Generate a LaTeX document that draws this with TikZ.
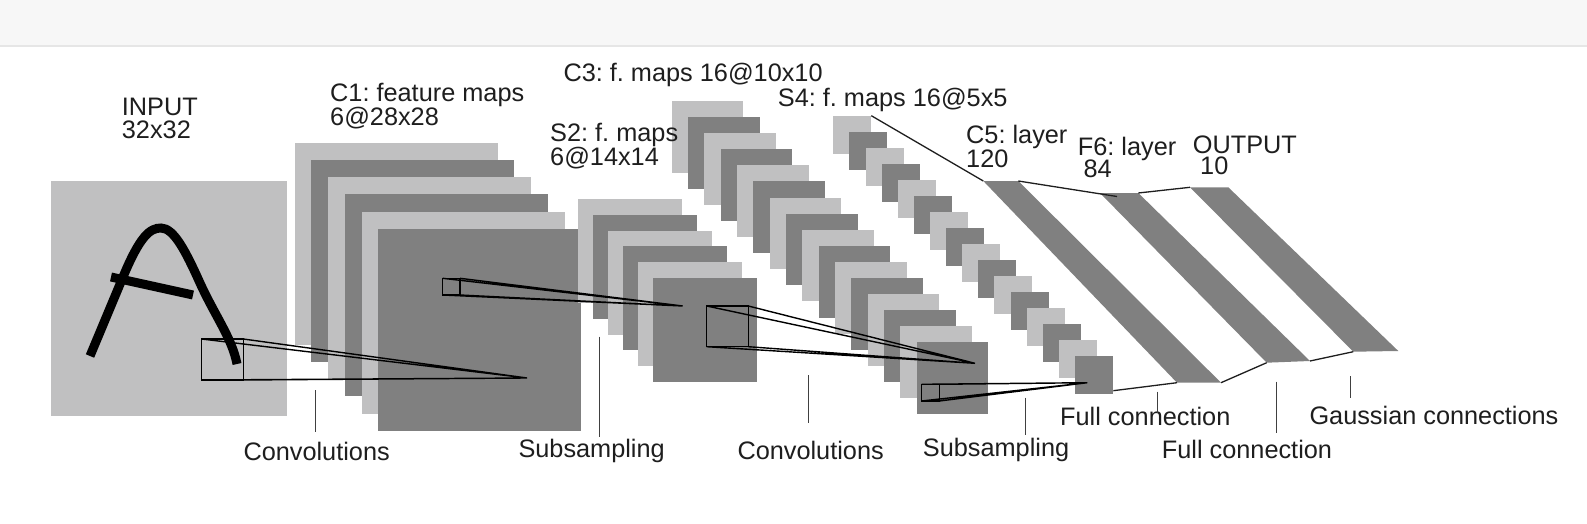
\documentclass[tikz,border=0pt]{standalone}
\usepackage{fontspec}
\setmainfont{Liberation Sans}
\frenchspacing
\definecolor{lt}{HTML}{C0C0C1}
\definecolor{dk}{HTML}{808080}
\definecolor{txt}{HTML}{1E1E1E}
\definecolor{topband}{HTML}{F7F7F7}
\definecolor{bandline}{HTML}{E6E6E6}
\begin{document}
\begin{tikzpicture}[x=1pt,y=-1pt,
  lbl/.style={anchor=base west,inner sep=0pt,text=txt,font=\fontsize{25.3}{25.3}\selectfont},
  pyr/.style={draw=black,line width=1.4pt},
  conn/.style={draw=txt,line width=1.3pt},
  tickline/.style={draw=txt!85,line width=1pt}]
\useasboundingbox (0,0) rectangle (1587,524);
\fill[white] (0,0) rectangle (1587,524);
\fill[topband] (0,0) rectangle (1587,45);
\draw[bandline,line width=2pt] (0,46) -- (1587,46);

% INPUT
\fill[lt] (51,181) rectangle (287,416);
\draw[line width=9pt] (90,356) -- (123,277) .. controls (140,236) and (150,228) .. (161,228)
  .. controls (174,228) and (186,252) .. (200,283) .. controls (215,316) and (232,338) .. (237,364);
\draw[line width=9pt] (111,277) -- (193,295);

% C1 stack
\foreach \i in {0,...,5}{\ifodd\i\def\col{dk}\else\def\col{lt}\fi
  \fill[\col] ({294.7+16.7*\i},{142.7+17.2*\i}) rectangle ++(203,202);}
% S2 stack
\foreach \i in {0,...,5}{\ifodd\i\def\col{dk}\else\def\col{lt}\fi
  \fill[\col] ({577.7+15.1*\i},{199.3+15.7*\i}) rectangle ++(104,104);}
% C3 stack
\foreach \i in {0,...,15}{\ifodd\i\def\col{dk}\else\def\col{lt}\fi
  \fill[\col] ({671.7+16.33*\i},{101+16.09*\i}) rectangle ++(71.7,71.7);}
% S4 stack
\foreach \i in {0,...,15}{\ifodd\i\def\col{dk}\else\def\col{lt}\fi
  \fill[\col] ({833.3+16.11*\i},{115.7+16.02*\i}) rectangle ++(38,38);}

% receptive fields
\coordinate (a1) at (527,378);
\draw[pyr] (201.7,339) rectangle (243.3,380);
\draw[pyr] (201.7,339) -- (a1) (243.3,339) -- (a1) (201.7,380) -- (a1) (243.3,380) -- (a1);
\coordinate (a2) at (682.7,306);
\draw[pyr] (442.7,278.3) rectangle (460,295);
\draw[pyr] (442.7,278.3) -- (a2) (460,278.3) -- (a2) (442.7,295) -- (a2) (460,295) -- (a2);
\coordinate (a3) at (975,363.3);
\draw[pyr] (706.7,306) rectangle (748.3,346.7);
\draw[pyr] (706.7,306) -- (a3) (748.3,306) -- (a3) (706.7,346.7) -- (a3) (748.3,346.7) -- (a3);
\coordinate (a4) at (1087.3,382.7);
\draw[pyr] (921.7,384.3) rectangle (939.3,401);
\draw[pyr] (921.7,384.3) -- (a4) (939.3,384.3) -- (a4) (921.7,401) -- (a4) (939.3,401) -- (a4);

% C5, F6, OUTPUT
\coordinate (c5tl) at (983.3,181); \coordinate (c5tr) at (1018.3,181);
\coordinate (c5br) at (1221,382.7); \coordinate (c5bl) at (1177,382.7);
\coordinate (f6tl) at (1100,193); \coordinate (f6tr) at (1138.3,193);
\coordinate (f6br) at (1310,361); \coordinate (f6bl) at (1266.7,362.7);
\coordinate (ottl) at (1190,187.3); \coordinate (ottr) at (1228.3,187.3);
\coordinate (otbr) at (1398.3,351); \coordinate (otbl) at (1353.3,351.7);
\fill[dk] (c5tl) -- (c5tr) -- (c5br) -- (c5bl) -- cycle;
\fill[dk] (f6tl) -- (f6tr) -- (f6br) -- (f6bl) -- cycle;
\fill[dk] (ottl) -- (ottr) -- (otbr) -- (otbl) -- cycle;
\coordinate (s4tr) at (871.3,115.7);
\coordinate (s4r) at (1113.3,390.7);
\coordinate (f6tick) at (1117,196.5);
\draw[conn] (s4tr) -- (c5tl);
\draw[conn] (s4r) -- (c5bl);
\draw[conn] (c5tr) -- (f6tick);
\draw[conn] (c5br) -- (f6bl);
\draw[conn] (f6tr) -- (ottl);
\draw[conn] (f6br) -- (otbl);

% top labels
\node[lbl] (in1) at (121.7,116) {INPUT};
\node[lbl] (in2) at (121.7,138.3) {32x32};
\node[lbl] (c1a) at (330,101.7) {C1: feature maps};
\node[lbl] (c1b) at (330,125) {6@28x28};
\node[lbl] (s2a) at (550,141.7) {S2: f. maps};
\node[lbl] (s2b) at (550,165) {6@14x14};
\node[lbl] (c3a) at (563.3,81.7) {C3: f. maps 16@10x10};
\node[lbl] (s4a) at (777.7,106.7) {S4: f. maps 16@5x5};
\node[lbl] (c5a) at (966,143.3) {C5: layer};
\node[lbl] (c5b) at (966,167.3) {120};
\node[lbl] (f6a) at (1077.7,155) {F6: layer};
\node[lbl] (f6b) at (1083.3,177.3) {84};
\node[lbl] (ota) at (1192.7,153.3) {OUTPUT};
\node[lbl] (otb) at (1200,175) {10};

% bottom labels
\node[lbl] (b1) at (243.3,460) {Convolutions};
\draw[tickline] (315,390) -- (315,431.7);
\node[lbl] (b2) at (518.3,457.3) {Subsampling};
\draw[tickline] (599,336.7) -- (599,436.7);
\node[lbl] (b3) at (737.3,459.3) {Convolutions};
\draw[tickline] (808.3,375) -- (808.3,423.3);
\node[lbl] (b4) at (922.7,456.7) {Subsampling};
\draw[tickline] (1025,397.7) -- (1025,435);
\node[lbl] (b5) at (1060,425) {Full connection};
\draw[tickline] (1157.3,391.7) -- (1157.3,413.3);
\node[lbl] (b6) at (1161.7,458.3) {Full connection};
\draw[tickline] (1276,381.7) -- (1276,433.3);
\node[lbl] (b7) at (1309.3,424) {Gaussian connections};
\draw[tickline] (1350,376) -- (1350,398.3);
\end{tikzpicture}
\end{document}
